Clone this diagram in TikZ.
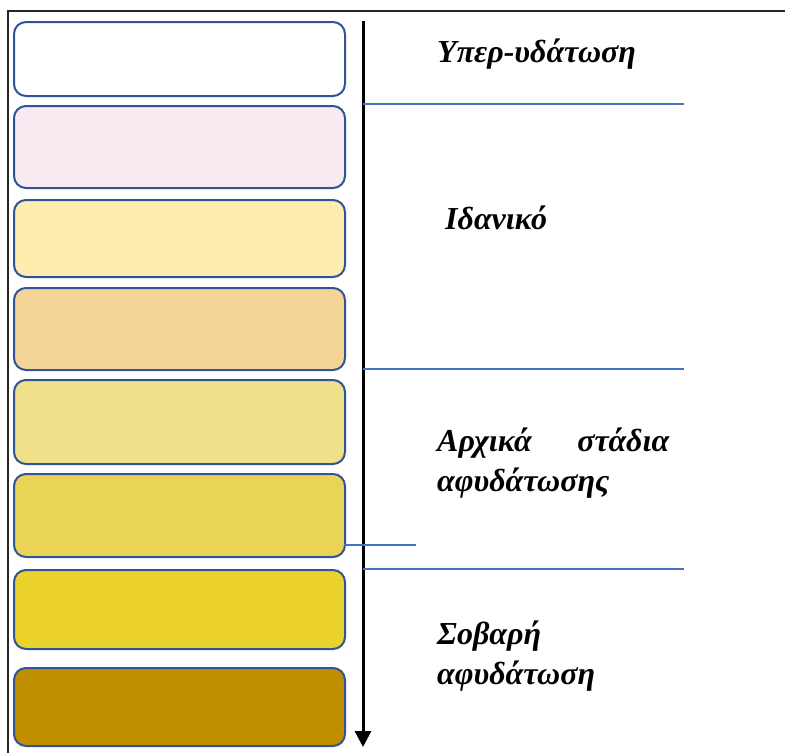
\documentclass[tikz,border=0pt]{standalone}
\usepackage{fontspec}
\setmainfont{Liberation Serif}
\usetikzlibrary{arrows.meta}
\definecolor{edgeblue}{HTML}{2F5597}
\definecolor{sepblue}{HTML}{4472C4}
\definecolor{c1}{HTML}{FFFFFF}
\definecolor{c2}{HTML}{F9EAF2}
\definecolor{c3}{HTML}{FFEDB0}
\definecolor{c4}{HTML}{F5D497}
\definecolor{c5}{HTML}{EFE08A}
\definecolor{c6}{HTML}{E9D456}
\definecolor{c7}{HTML}{EAD12C}
\definecolor{c8}{HTML}{BF8F00}
\tikzset{
  swatch/.style={draw=edgeblue, line width=2pt, rounded corners=12pt,
    minimum width=331pt, inner sep=0pt, anchor=north west},
  label/.style={anchor=base west, inner sep=0pt, font=\fontsize{32}{38}\selectfont\bfseries\itshape},
  sep/.style={draw=sepblue, line width=1.2pt},
}
\begin{document}
\begin{tikzpicture}[x=1pt, y=-1pt]
\useasboundingbox (0,0) rectangle (785,753);
% frame
\draw[line width=1.5pt, black!85] (8,753) -- (8,11) -- (785,11);
% colour swatches
\node[swatch, fill=c1, minimum height=74pt] (s1) at (13,21) {};
\node[swatch, fill=c2, minimum height=82pt] (s2) at (13,105) {};
\node[swatch, fill=c3, minimum height=77pt] (s3) at (13,199) {};
\node[swatch, fill=c4, minimum height=82pt] (s4) at (13,287) {};
\node[swatch, fill=c5, minimum height=84pt] (s5) at (13,379) {};
\node[swatch, fill=c6, minimum height=83pt] (s6) at (13,473) {};
\node[swatch, fill=c7, minimum height=79pt] (s7) at (13,569) {};
\node[swatch, fill=c8, minimum height=78pt] (s8) at (13,667) {};
% scale arrow
\coordinate (atop) at (363,21);
\coordinate (abot) at (363,747);
\draw[line width=3pt, -{Triangle[length=16pt, width=16pt]}] (atop) -- (abot);
% separators
\coordinate (l1a) at (363,104); \coordinate (l1b) at (684,104);
\coordinate (l2a) at (363,369); \coordinate (l2b) at (684,369);
\coordinate (l3a) at (344,545); \coordinate (l3b) at (416,545);
\coordinate (l4a) at (363,569); \coordinate (l4b) at (684,569);
\draw[sep] (l1a) -- (l1b);
\draw[sep] (l2a) -- (l2b);
\draw[sep] (l3a) -- (l3b);
\draw[sep] (l4a) -- (l4b);
% labels
\node[label] (t1) at (437,62) {Υπερ-υδάτωση};
\node[label] (t2) at (445,229) {Ιδανικό};
\node[label] (t3) at (437,451) {\makebox[232pt][l]{Αρχικά\hfill στάδια}};
\node[label] (t4) at (437,491) {αφυδάτωσης};
\node[label] (t5) at (437,644) {Σοβαρή};
\node[label] (t6) at (437,684) {αφυδάτωση};
\end{tikzpicture}
\end{document}
